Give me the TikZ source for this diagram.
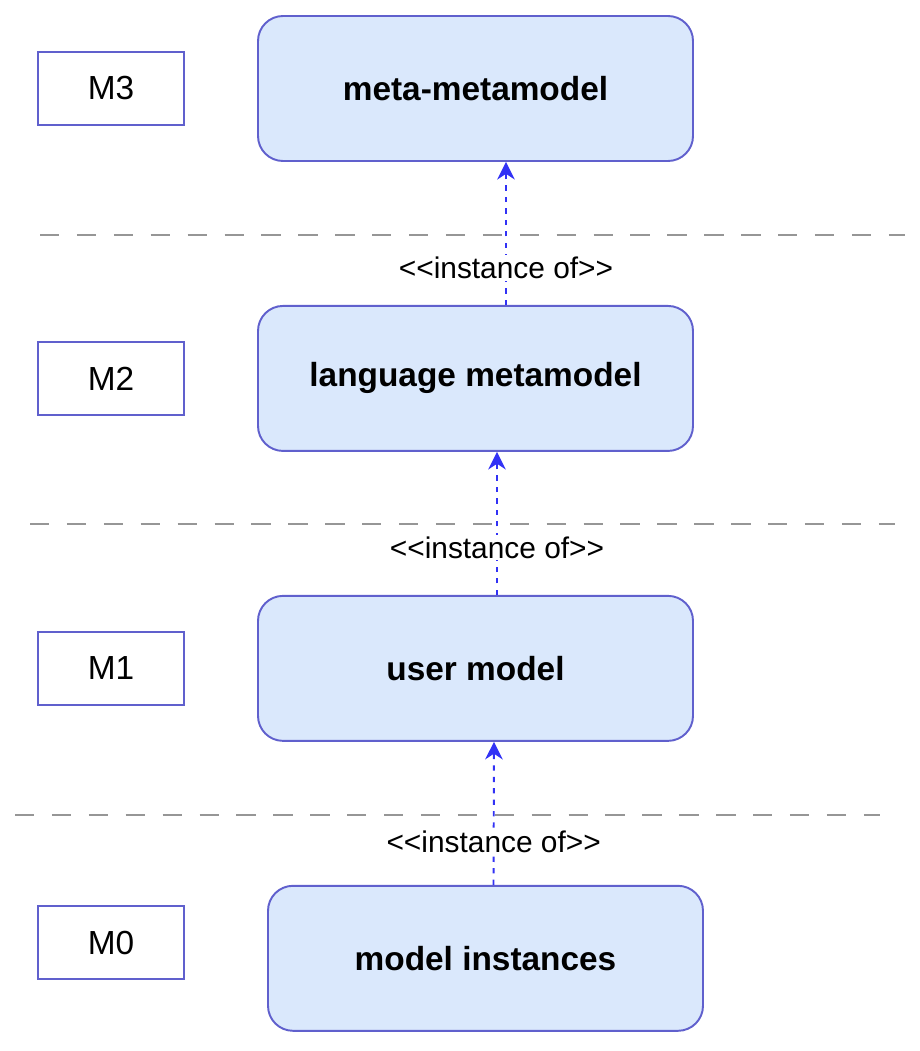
\documentclass[tikz,border=0pt]{standalone}
\usepackage{fontspec}
\setmainfont{Liberation Sans}
\usepackage{xcolor}
\usetikzlibrary{arrows.meta, positioning, calc}

\definecolor{boxfill}{HTML}{DAE8FC}
\definecolor{boxline}{RGB}{96,96,205}
\definecolor{flowblue}{RGB}{50,50,245}
\definecolor{sepgray}{RGB}{150,150,150}

\newcommand{\instof}{<\kern0pt<instance of>\kern0pt>}

\begin{document}
\begin{tikzpicture}[
    node distance=2.86cm,
    level/.style={rectangle, draw=boxline, fill=boxfill, line width=1.1pt, rounded corners=0.5cm, minimum width=8.7cm, minimum height=2.9cm, font=\fontsize{19}{22}\selectfont\bfseries},
    tag/.style={rectangle, draw=boxline, fill=white, line width=1.1pt, minimum width=2.92cm, minimum height=1.46cm, font=\fontsize{19}{22}\selectfont},
    arrow/.style={line width=1.1pt, draw=flowblue, dash pattern=on 3pt off 3.5pt, -{Stealth[length=10pt, width=10pt, fill=flowblue]}},
    caption/.style={fill=white, inner sep=1pt, font=\fontsize{17}{20}\selectfont},
    separator/.style={line width=1.5pt, draw=sepgray, dash pattern=on 11pt off 10pt}
]
    \useasboundingbox (0,0) rectangle (18.38,-21.02);

    % Nodes
    \node (mmm) [level] at (9.51,-1.77) {meta-metamodel};
    \node (lang) [level, below=of mmm] {language metamodel};
    \node (user) [level, below=of lang] {user model};
    \node (inst) [level, below=of user, xshift=0.2cm] {model instances};

    \node (m3) [tag, left=1.44cm of mmm] {M3};
    \node (m2) [tag, left=1.44cm of lang] {M2};
    \node (m1) [tag, left=1.44cm of user] {M1};
    \node (m0) [tag, left=1.64cm of inst, yshift=0.31cm] {M0};

    % Layer separators
    \draw [separator] (0.8,-4.7) -- (18.1,-4.7);
    \draw [separator] (0.6,-10.48) -- (17.9,-10.48);
    \draw [separator] (0.3,-16.3) -- (17.6,-16.3);

    % Flows
    \draw [arrow] ([xshift=0.61cm]lang.north) -- node[caption, pos=0.26] {\instof} ([xshift=0.61cm]mmm.south);
    \draw [arrow] ([xshift=0.43cm]user.north) -- node[caption, pos=0.33] {\instof} ([xshift=0.43cm]lang.south);
    \draw [arrow] ([xshift=0.16cm]inst.north) -- node[caption, pos=0.3] {\instof} ([xshift=0.37cm]user.south);

\end{tikzpicture}
\end{document}
